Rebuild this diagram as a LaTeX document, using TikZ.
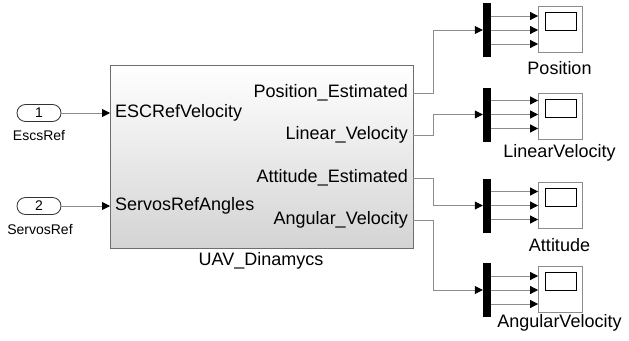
\documentclass[tikz,border=0pt]{standalone}
\usepackage{fontspec}
\setmainfont{Liberation Sans}
\usetikzlibrary{arrows.meta}
\definecolor{wire}{HTML}{8C8C8C}
\definecolor{edge}{HTML}{6E6E6E}
\begin{document}
\begin{tikzpicture}[x=1pt,y=-1pt,
  bigfont/.style={font=\fontsize{18}{20}\selectfont},
  smallfont/.style={font=\fontsize{14}{16}\selectfont},
  conn/.style={draw=wire, line width=0.8pt, -{Triangle[length=8pt,width=8pt,color=black]}},
  blockbox/.style={draw=edge, line width=1pt, top color=white, bottom color=black!17, minimum width=303pt, minimum height=183pt, inner sep=0pt},
  portbox/.style={draw=black!80, line width=0.8pt, rounded corners=8.5pt, minimum width=44pt, minimum height=17pt, inner sep=0pt, smallfont},
  demuxbar/.style={fill=black, draw=none, minimum width=8pt, minimum height=54pt, inner sep=0pt},
  scopebox/.style={draw=wire, line width=0.8pt, fill=white, minimum width=44pt, minimum height=46pt, inner sep=0pt},
  screenbox/.style={draw=black, line width=0.9pt, minimum width=31pt, minimum height=18pt, inner sep=0pt},
  inl/.style={bigfont, anchor=west, inner sep=0pt},
  outl/.style={bigfont, anchor=east, inner sep=0pt}
]
\useasboundingbox (0,0) rectangle (629,340);
\fill[white] (0,0) rectangle (629,340);

% main block
\node[blockbox] (uav) at (261.5,156.5) {};
\node[bigfont] (uavname) at (261,261) {UAV\_Dinamycs};

% port coordinates on the block
\coordinate (i1) at (110,113);
\coordinate (i2) at (110,206);
\coordinate (o1) at (413,93);
\coordinate (o2) at (413,135);
\coordinate (o3) at (413,178);
\coordinate (o4) at (413,220);

\node[inl] (l1) at (115,113) {ESCRefVelocity};
\node[inl] (l2) at (115,206) {ServosRefAngles};
\node[outl] (r1) at (408,93) {Position\_Estimated};
\node[outl] (r2) at (408,135) {Linear\_Velocity};
\node[outl] (r3) at (408,178) {Attitude\_Estimated};
\node[outl] (r4) at (408,220) {Angular\_Velocity};

% inports
\node[portbox] (p1) at (39,113) {1};
\node[smallfont] (p1name) at (39,136) {EscsRef};
\node[portbox] (p2) at (39,206) {2};
\node[smallfont] (p2name) at (40,229) {ServosRef};
\draw[conn] (p1.east) -- (i1);
\draw[conn] (p2.east) -- (i2);

% demuxes
\node[demuxbar] (d1) at (487,30) {};
\node[demuxbar] (d2) at (487,114.5) {};
\node[demuxbar] (d3) at (487,205.5) {};
\node[demuxbar] (d4) at (487,290) {};

\draw[conn] (o1) -- (433,93) |- (d1.west);
\draw[conn] (o2) -- (433,135) |- (d2.west);
\draw[conn] (o3) -- (433,178) |- (d3.west);
\draw[conn] (o4) -- (433,220) |- (d4.west);

% scopes
\foreach \n/\y/\lab/\ly in {1/29/Position/68, 2/116/LinearVelocity/153, 3/205.5/Attitude/245, 4/289/AngularVelocity/323}{
  \node[scopebox] (s\n) at (560.5,\y) {};
  \node[screenbox] (sc\n) at ([yshift=8pt]s\n.center) {};
  \node[bigfont] (sl\n) at (559.5,\ly) {\lab};
}
\foreach \n in {1,2,3,4}{
  \draw[conn] ([yshift=14pt]d\n.east) -- ([yshift=14pt]d\n.east -| s\n.west);
  \draw[conn] (d\n.east) -- (d\n.east -| s\n.west);
  \draw[conn] ([yshift=-14pt]d\n.east) -- ([yshift=-14pt]d\n.east -| s\n.west);
}
\end{tikzpicture}
\end{document}
